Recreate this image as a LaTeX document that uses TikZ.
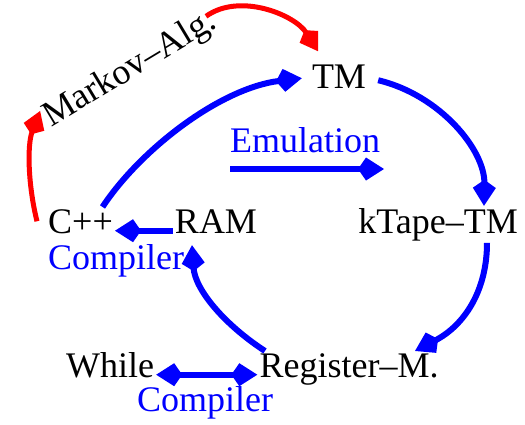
\documentclass[tikz,border=0pt]{standalone}
\usepackage{fontspec}
\setmainfont{Liberation Serif}
\usetikzlibrary{arrows.meta, positioning}
\definecolor{emuBlue}{HTML}{0000FF}
\definecolor{markRed}{HTML}{FF0000}
\tikzset{
  machine/.style={font=\fontsize{36}{40}\selectfont, inner sep=2pt, anchor=base},
  tagtext/.style={machine, text=emuBlue},
  flowarr/.style={-{Kite[length=26pt, width=23pt, inset=8pt]}, emuBlue, line width=6pt},
  bothflow/.style={flowarr, {Kite[length=26pt, width=23pt, inset=8pt]}-{Kite[length=26pt, width=23pt, inset=8pt]}},
  redarr/.style={-{Kite[length=25pt, width=22pt, inset=8pt]}, markRed, line width=5pt},
}

\begin{document}
\begin{tikzpicture}[x=1pt, y=-1pt]
  \useasboundingbox (0,0) rectangle (525,424);
  % machine models
  \node[machine] (tm) at (339,88) {TM};
  \node[machine] (ktape) at (438,233) {kTape--TM};
  \node[machine] (ram) at (216,233) {RAM};
  \node[machine] (cpp) at (80.5,233) {C++};
  \node[machine] (regm) at (349,377) {Register--M.};
  \node[machine] (while) at (110,377) {While};
  \node[machine, rotate=31] (markov) at (135,77) {Markov--Alg.};
  % labels
  \node[tagtext] (emu) at (305,152) {Emulation};
  \node[tagtext] (compa) at (116,269) {Compiler};
  \node[tagtext] (compb) at (205,411) {Compiler};
  \coordinate (emuL) at (230,169);
  \coordinate (emuR) at (384,169);
  % blue arrows
  \draw[flowarr] (emuL) -- (emuR);
  \draw[flowarr] ([xshift=22pt]cpp.north) .. controls (140,150) and (220,88) .. ([xshift=-8pt,yshift=-2pt]tm.west);
  \draw[flowarr] ([xshift=10pt,yshift=-4pt]tm.east) .. controls (440,95) and (485,150) .. ([xshift=46pt]ktape.north);
  \draw[flowarr] ([xshift=49pt]ktape.south) .. controls (487,290) and (465,325) .. ([xshift=66pt]regm.north);
  \draw[flowarr] ([xshift=-84pt]regm.north) .. controls (225,325) and (195,290) .. ([xshift=-24pt,yshift=-10pt]ram.south);
  \draw[flowarr] (ram.mid west) -- (cpp.mid east);
  \draw[bothflow] (while.mid east) -- (regm.mid west);
  % red arrows
  \draw[redarr] ([xshift=-10pt,yshift=2pt]markov.east) .. controls (240,-8) and (295,15) .. ([xshift=-21pt,yshift=11pt]tm.north);
  \draw[redarr] ([xshift=-9pt]cpp.west) .. controls (28,185) and (27,145) .. ([xshift=-5pt,yshift=10pt]markov.west);
\end{tikzpicture}
\end{document}
